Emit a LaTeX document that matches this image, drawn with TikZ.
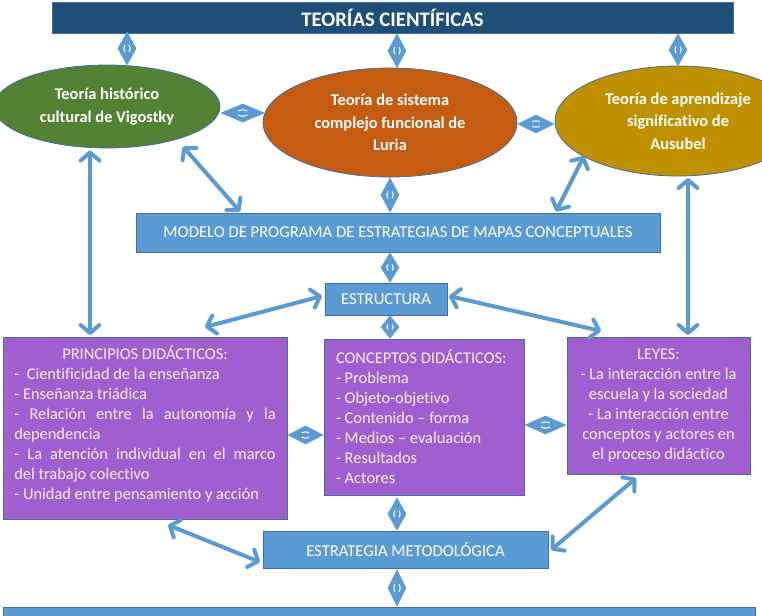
\documentclass[tikz,border=0pt]{standalone}
\usepackage{fontspec}
\setmainfont{Carlito}[Ligatures=NoCommon]
\usetikzlibrary{shapes.geometric,arrows.meta,calc}
\definecolor{tblue}{HTML}{1F4E79}
\definecolor{lblue}{HTML}{5B9BD5}
\definecolor{olbl}{HTML}{41719C}
\definecolor{egreen}{HTML}{548235}
\definecolor{eorange}{HTML}{C55A11}
\definecolor{egold}{HTML}{BF9000}
\definecolor{purp}{HTML}{A05FD0}
\definecolor{ptext}{HTML}{F6EEFB}
\newcommand\dia[2]{%
  \fill[lblue] (#1) -- ($(#1)!0.5!(#2)!7pt!90:(#2)$) -- (#2) -- ($(#1)!0.5!(#2)!7pt!-90:(#2)$) -- cycle;
  \draw[white,line width=0.8pt] ($(#1)!0.4!(#2)!1.6pt!90:(#2)$) .. controls ($(#1)!0.5!(#2)!2.6pt!90:(#2)$) .. ($(#1)!0.6!(#2)!1.6pt!-90:(#1)$);
  \draw[white,line width=0.8pt] ($(#1)!0.4!(#2)!1.6pt!-90:(#2)$) .. controls ($(#1)!0.5!(#2)!2.6pt!-90:(#2)$) .. ($(#1)!0.6!(#2)!1.6pt!90:(#1)$);
}
\tikzset{
  box/.style={rectangle, draw=olbl, line width=0.6pt, inner sep=0pt, text=white, font=\fontsize{12.3}{15}\selectfont},
  lbox/.style={box, fill=lblue, font=\fontsize{12.5}{15}\selectfont},
  ell/.style={ellipse, draw=olbl, line width=0.6pt, inner sep=0pt, text=white, align=center, font=\bfseries\fontsize{12.3}{16.8}\selectfont},
  dbl/.style={draw=lblue, line width=3pt, {Straight Barb[length=6pt,width=14pt,round]}-{Straight Barb[length=6pt,width=14pt,round]}},
}
\begin{document}
\begin{tikzpicture}[x=0.75pt,y=-0.75pt]
\useasboundingbox (0,0) rectangle (762,615);
% nodes
\node[box, fill=tblue, minimum width={681*0.75pt}, minimum height={31*0.75pt}, font=\bfseries\fontsize{15.5}{17}\selectfont] (title) at (392.5,17.5) {TEORÍAS CIENTÍFICAS};
\node[ell, fill=egreen, minimum width={226*0.75pt}, minimum height={83*0.75pt}] (green) at (107,106.5) {Teoría histórico\\cultural de Vigostky};
\node[ell, fill=eorange, minimum width={254*0.75pt}, minimum height={109*0.75pt}] (orange) at (390,122.5) {Teoría de sistema\\complejo funcional de\\Luria};
\node[ell, fill=egold, minimum width={246*0.75pt}, minimum height={110*0.75pt}] (gold) at (678,121) {Teoría de aprendizaje\\significativo de\\Ausubel};
\node[lbox, minimum width={524*0.75pt}, minimum height={39*0.75pt}] (modelo) at (398,232.5) {MODELO DE PROGRAMA DE ESTRATEGIAS DE MAPAS CONCEPTUALES};
\node[lbox, minimum width={122*0.75pt}, minimum height={32*0.75pt}] (estr) at (386,299) {ESTRUCTURA};
\node[box, fill=purp, text=ptext, minimum width={284*0.75pt}, minimum height={182*0.75pt}] (princ) at (145,428) {\parbox{196pt}{\centering
PRINCIPIOS DIDÁCTICOS:\\
\makebox[\linewidth][l]{-\ \ Cientificidad de la enseñanza}\\
\makebox[\linewidth][l]{- Enseñanza triádica}\\
\makebox[\linewidth][s]{- Relación entre la autonomía y la}\\
\makebox[\linewidth][l]{dependencia}\\
\makebox[\linewidth][s]{- La atención individual en el marco}\\
\makebox[\linewidth][l]{del trabajo colectivo}\\
\makebox[\linewidth][l]{- Unidad entre pensamiento y acción}\\[6pt]}};
\node[box, fill=purp, text=ptext, minimum width={200*0.75pt}, minimum height={156*0.75pt}] (conc) at (424,417) {\parbox{132pt}{\raggedright
CONCEPTOS DIDÁCTICOS:\\
- Problema\\
- Objeto-objetivo\\
- Contenido -- forma\\
- Medios -- evaluación\\
- Resultados\\
- Actores}};
\node[box, fill=purp, text=ptext, minimum width={183*0.75pt}, minimum height={137*0.75pt}] (leyes) at (658.5,405.5) {\parbox{134pt}{\centering
LEYES:\\
- La interacción entre la\\
escuela y la sociedad\\
- La interacción entre\\
conceptos y actores en\\
el proceso didáctico}};
\node[lbox, minimum width={285*0.75pt}, minimum height={37*0.75pt}] (estrat) at (405.5,549.5) {ESTRATEGIA METODOLÓGICA};
\node[lbox, minimum width={752*0.75pt}, minimum height={33*0.75pt}] (bottom) at (379,623.5) {};
% diamond connectors
\path ($(title.south)+(-265.5,-2)$) coordinate (d1a) ($(green.center)+(20,-41)$) coordinate (d1b);
\path ($(title.south)+(4.5,0)$) coordinate (d2a) ($(orange.north)+(7,0.5)$) coordinate (d2b);
\path ($(title.south)+(285.5,0)$) coordinate (d3a) ($(gold.north)+(0,0.5)$) coordinate (d3b);
\path ($(green.east)+(0,6.5)$) coordinate (d4a) ($(orange.center)+(-125,-9.5)$) coordinate (d4b);
\path ($(orange.east)+(0,1.5)$) coordinate (d5a) ($(gold.west)+(0,3)$) coordinate (d5b);
\path (orange.south) coordinate (d6a) ($(modelo.north)+(-8,0)$) coordinate (d6b);
\path ($(modelo.south)+(-8,0)$) coordinate (d7a) ($(estr.north)+(4,0)$) coordinate (d7b);
\path ($(estr.south)+(4,0)$) coordinate (d8a) ($(conc.north)+(-34,0)$) coordinate (d8b);
\path ($(princ.east)+(0,7)$) coordinate (d9a) ($(conc.west)+(0,18)$) coordinate (d9b);
\path ($(conc.east)+(0,8)$) coordinate (d10a) ($(leyes.west)+(0,19.5)$) coordinate (d10b);
\path ($(conc.south)+(-27,2)$) coordinate (d11a) ($(estrat.north)+(-8.5,0)$) coordinate (d11b);
\path ($(estrat.south)+(-8.5,1)$) coordinate (d12a) ($(bottom.north)+(18,0)$) coordinate (d12b);
\dia{d1a}{d1b}\dia{d2a}{d2b}\dia{d3a}{d3b}\dia{d4a}{d4b}\dia{d5a}{d5b}\dia{d6a}{d6b}
\dia{d7a}{d7b}\dia{d8a}{d8b}\dia{d9a}{d9b}\dia{d10a}{d10b}\dia{d11a}{d11b}\dia{d12a}{d12b}
% double arrows
\draw[dbl] ($(green.center)+(-17,44)$) -- ($(princ.center)+(-55,-93)$);
\draw[dbl] ($(green.center)+(76,40)$) -- ($(modelo.center)+(-158,-21)$);
\draw[dbl] ($(gold.center)+(-94,35)$) -- ($(modelo.center)+(158,-21)$);
\draw[dbl] ($(gold.center)+(10,57)$) -- ($(leyes.center)+(29.5,-70.5)$);
\draw[dbl] ($(estr.center)+(-64,-3)$) -- ($(princ.center)+(60,-101)$);
\draw[dbl] ($(estr.center)+(63,-3)$) -- ($(leyes.center)+(-57.5,-74.5)$);
\draw[dbl] ($(princ.center)+(23,97)$) -- ($(estrat.center)+(-145.5,12.5)$);
\draw[dbl] ($(leyes.center)+(-22.5,72.5)$) -- ($(estrat.center)+(145.5,0.5)$);
\end{tikzpicture}
\end{document}
